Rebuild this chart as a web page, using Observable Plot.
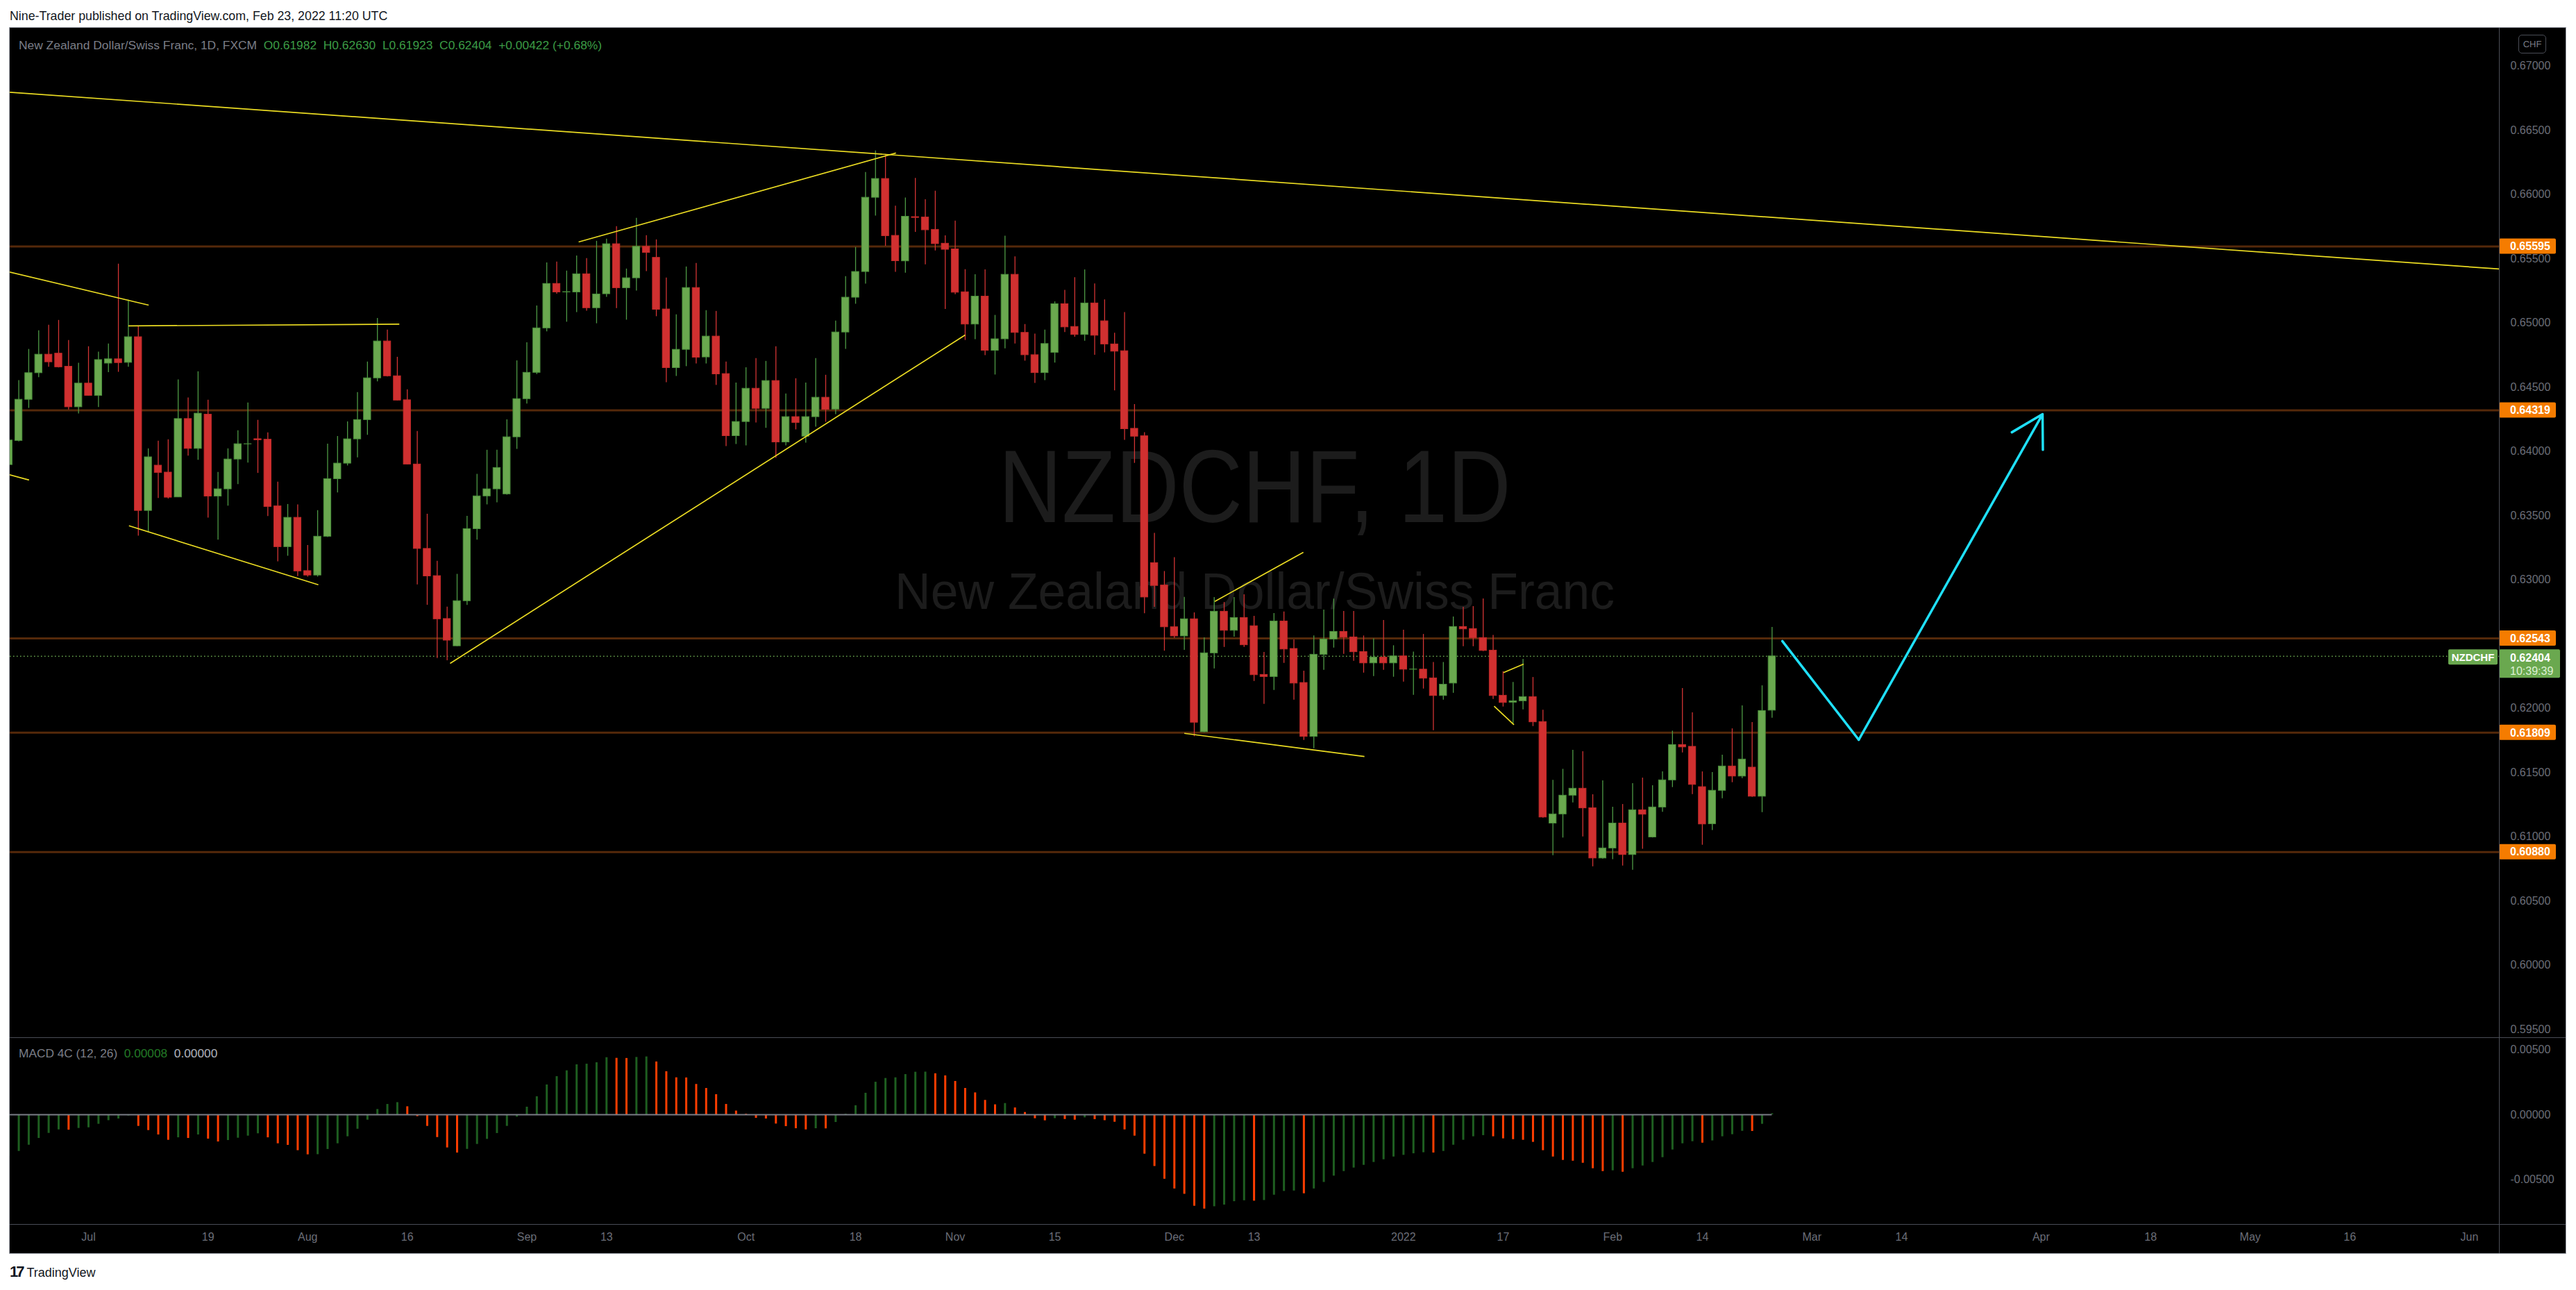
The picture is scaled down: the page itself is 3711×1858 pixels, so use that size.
<!DOCTYPE html>
<html>
<head>
<meta charset="utf-8">
<script src="https://cdn.jsdelivr.net/npm/d3@7"></script>
<script src="https://cdn.jsdelivr.net/npm/@observablehq/plot@0.6"></script>
<style>
html,body{margin:0;padding:0;background:#fff;}
body{width:3711px;height:1858px;position:relative;overflow:hidden;font-family:"Liberation Sans",Arial,sans-serif;}
.abs{position:absolute;}
#frame{left:14px;top:40px;width:3682px;height:1765px;background:#000;box-shadow:0 0 0 1px #a3a6af;}
#header{left:14px;top:13px;font-size:17.8px;line-height:20px;color:#131722;white-space:nowrap;}
#legend{left:27px;top:55px;font-size:17.4px;line-height:20px;color:#7b7e87;white-space:nowrap;}
#legend .v{color:#3c9c46;}
#macdlbl{left:27px;top:1507px;font-size:17.3px;line-height:20px;color:#7b7e87;white-space:nowrap;}
.sep{background:#4a4d56;}
#chf{left:3628px;top:50px;width:38px;height:25px;border:1px solid #4a4d56;border-radius:5px;color:#787b86;font-size:13px;line-height:25px;text-align:center;}
#logo{left:14px;top:1820px;font-size:18px;line-height:24px;color:#131722;white-space:nowrap;}
#logo b{font-weight:900;font-size:22px;letter-spacing:-3px;margin-right:6px;}
svg{overflow:visible;}
</style>
</head>
<body>
<div id="frame" class="abs"></div>
<div id="header" class="abs">Nine-Trader published on TradingView.com, Feb 23, 2022 11:20 UTC</div>
<div id="mainWrap" class="abs" style="left:14px;top:40px;"></div>
<div id="macdWrap" class="abs" style="left:14px;top:1494px;"></div>
<div class="abs sep" style="left:14px;top:1494px;width:3682px;height:1px;"></div>
<div class="abs sep" style="left:14px;top:1763px;width:3682px;height:1px;"></div>
<div class="abs sep" style="left:3600px;top:40px;width:1px;height:1765px;"></div>
<div id="legend" class="abs"></div>
<div id="macdlbl" class="abs"></div>
<div id="chf" class="abs">CHF</div>
<div id="logo" class="abs"><b>17</b>TradingView</div>
<script>
// ---------- DATA ----------
const startDate = "2021-06-21"; // first bar, consecutive weekdays after it
const open = [
0.63894,0.64082,0.64402,0.64609,0.64753,0.64761,0.64659,0.64344,0.64528,0.64433,
0.64684,0.64717,0.64690,0.64889,0.63537,0.63889,0.63835,0.63642,0.64252,0.64020,
0.64286,0.63649,0.63705,0.63937,0.64055,0.64095,0.64091,0.63572,0.63255,0.63483,
0.63068,0.63034,0.63336,0.63784,0.63905,0.64094,0.64244,0.64569,0.64856,0.64585,
0.64398,0.63898,0.63241,0.63029,0.62695,0.62483,0.62834,0.63395,0.63650,0.63705,
0.63666,0.64110,0.64407,0.64612,0.64958,0.65304,0.65238,0.65238,0.65379,0.65115,
0.65224,0.65613,0.65271,0.65348,0.65593,0.65507,0.65105,0.64649,0.64791,0.65272,
0.64732,0.64894,0.64602,0.64119,0.64229,0.64488,0.64332,0.64548,0.64070,0.64267,
0.64115,0.64267,0.64418,0.64326,0.64926,0.65197,0.65397,0.65975,0.66121,0.65678,
0.65480,0.65824,0.65821,0.65725,0.65617,0.65573,0.65239,0.64988,0.65205,0.64784,
0.64873,0.65375,0.64923,0.64749,0.64610,0.64768,0.65146,0.64969,0.64907,0.65152,
0.65013,0.64833,0.64780,0.64176,0.64118,0.63130,0.62956,0.62631,0.62560,0.62693,
0.61814,0.62428,0.62752,0.62604,0.62703,0.62639,0.62260,0.62244,0.62676,0.62462,
0.62197,0.61778,0.62417,0.62536,0.62595,0.62552,0.62438,0.62350,0.62395,0.62350,
0.62404,0.62301,0.62301,0.62233,0.62096,0.62193,0.62633,0.62617,0.62547,0.62449,
0.62098,0.62044,0.62055,0.62087,0.61893,0.61103,0.61174,0.61320,0.61374,0.61222,
0.60831,0.60909,0.61103,0.60858,0.61206,0.60995,0.61228,0.61439,0.61714,0.61700,
0.61386,0.61098,0.61358,0.61547,0.61469,0.61538,0.61312,0.61982];
const high = [
0.64110,0.64551,0.64794,0.64939,0.64983,0.65020,0.64863,0.64686,0.64815,0.64773,
0.64836,0.65458,0.65178,0.64972,0.64020,0.64080,0.64091,0.64557,0.64416,0.64620,
0.64398,0.63836,0.64020,0.64161,0.64377,0.64242,0.64145,0.63761,0.63587,0.63584,
0.63268,0.63539,0.64057,0.64116,0.64230,0.64458,0.64696,0.65035,0.64944,0.64733,
0.64480,0.64155,0.63511,0.63145,0.62788,0.63043,0.63495,0.63821,0.64009,0.64009,
0.64246,0.64705,0.64846,0.65133,0.65467,0.65474,0.65404,0.65522,0.65502,0.65636,
0.65653,0.65750,0.65420,0.65815,0.65680,0.65647,0.65350,0.65063,0.65436,0.65463,
0.65096,0.65090,0.64696,0.64533,0.64652,0.64723,0.64701,0.64815,0.64447,0.64566,
0.64533,0.64723,0.64593,0.65015,0.65361,0.65588,0.66172,0.66339,0.66312,0.65910,
0.65973,0.66125,0.65960,0.66026,0.65679,0.65793,0.65415,0.65375,0.65413,0.65059,
0.65676,0.65515,0.64988,0.64914,0.64945,0.65164,0.65254,0.65353,0.65413,0.65304,
0.65180,0.64920,0.65081,0.64365,0.64146,0.63362,0.63065,0.63173,0.62863,0.62743,
0.62548,0.62862,0.62824,0.62862,0.62884,0.62716,0.62435,0.62738,0.62750,0.62532,
0.62289,0.62563,0.62765,0.62850,0.62754,0.62754,0.62563,0.62541,0.62684,0.62487,
0.62608,0.62438,0.62575,0.62357,0.62357,0.62711,0.62786,0.62792,0.62851,0.62568,
0.62285,0.62201,0.62381,0.62240,0.61985,0.61439,0.61525,0.61673,0.61662,0.61327,
0.61435,0.61230,0.61251,0.61413,0.61457,0.61397,0.61505,0.61822,0.62154,0.61965,
0.61505,0.61500,0.61635,0.61840,0.62019,0.61889,0.62175,0.62630];
const low = [
0.63870,0.64074,0.64335,0.64574,0.64655,0.64650,0.64323,0.64292,0.64430,0.64342,
0.64613,0.64616,0.64655,0.63340,0.63373,0.63634,0.63630,0.63640,0.63964,0.63931,
0.63481,0.63309,0.63574,0.63742,0.63910,0.63829,0.63493,0.63140,0.63184,0.63026,
0.63022,0.63022,0.63330,0.63677,0.63887,0.63950,0.64125,0.64542,0.64580,0.64394,
0.63895,0.62961,0.62802,0.62388,0.62370,0.62480,0.62802,0.63309,0.63584,0.63600,
0.63660,0.64016,0.64369,0.64598,0.64931,0.65224,0.65006,0.65081,0.65092,0.64994,
0.65200,0.65112,0.65022,0.65249,0.65400,0.65049,0.64535,0.64584,0.64660,0.64681,
0.64681,0.64514,0.64038,0.64054,0.64043,0.64222,0.64180,0.63946,0.64043,0.64168,
0.64065,0.64189,0.64227,0.64287,0.64795,0.65146,0.65303,0.65833,0.65597,0.65395,
0.65388,0.65706,0.65453,0.65561,0.65106,0.65220,0.64864,0.64870,0.64746,0.64595,
0.64799,0.64836,0.64703,0.64530,0.64551,0.64688,0.64926,0.64889,0.64858,0.64749,
0.64768,0.64471,0.64087,0.63907,0.62736,0.62786,0.62445,0.62544,0.62451,0.61779,
0.61810,0.62307,0.62474,0.62554,0.62474,0.62209,0.62031,0.62139,0.62350,0.62063,
0.61750,0.61685,0.62296,0.62469,0.62420,0.62366,0.62274,0.62247,0.62296,0.62242,
0.62204,0.62101,0.62150,0.61825,0.62063,0.62117,0.62480,0.62480,0.62442,0.62069,
0.62010,0.61876,0.61988,0.61858,0.61145,0.60853,0.60990,0.61264,0.60999,0.60766,
0.60825,0.60821,0.60772,0.60739,0.60902,0.60990,0.61190,0.61383,0.61653,0.61329,
0.60934,0.61048,0.61296,0.61421,0.61453,0.61307,0.61188,0.61923];
const close = [
0.64085,0.64402,0.64609,0.64753,0.64694,0.64655,0.64344,0.64528,0.64433,0.64711,
0.64717,0.64688,0.64889,0.63537,0.63954,0.63833,0.63640,0.64252,0.64020,0.64294,
0.63649,0.63705,0.63937,0.64056,0.64056,0.64087,0.63568,0.63255,0.63483,0.63066,
0.63034,0.63336,0.63784,0.63905,0.64094,0.64244,0.64569,0.64856,0.64585,0.64396,
0.63898,0.63241,0.63027,0.62693,0.62527,0.62834,0.63395,0.63650,0.63705,0.63871,
0.64110,0.64407,0.64612,0.64958,0.65304,0.65238,0.65240,0.65379,0.65115,0.65222,
0.65613,0.65271,0.65348,0.65593,0.65546,0.65103,0.64649,0.64791,0.65272,0.64730,
0.64894,0.64600,0.64119,0.64229,0.64488,0.64332,0.64548,0.64070,0.64267,0.64222,
0.64267,0.64418,0.64324,0.64926,0.65197,0.65397,0.65975,0.66121,0.65676,0.65481,
0.65827,0.65818,0.65722,0.65614,0.65570,0.65236,0.64988,0.65205,0.64784,0.64873,
0.65375,0.64923,0.64749,0.64610,0.64836,0.65146,0.64966,0.64907,0.65152,0.64901,
0.64833,0.64777,0.64173,0.64115,0.62863,0.62953,0.62631,0.62560,0.62693,0.61888,
0.62428,0.62752,0.62604,0.62703,0.62491,0.62258,0.62244,0.62676,0.62458,0.62193,
0.61778,0.62417,0.62536,0.62595,0.62550,0.62437,0.62350,0.62395,0.62350,0.62404,
0.62301,0.62302,0.62231,0.62096,0.62184,0.62633,0.62615,0.62545,0.62447,0.62096,
0.62042,0.62055,0.62087,0.61891,0.61150,0.61174,0.61320,0.61374,0.61221,0.60831,
0.60909,0.61103,0.60858,0.61206,0.61172,0.61228,0.61439,0.61714,0.61696,0.61404,
0.61096,0.61358,0.61547,0.61469,0.61601,0.61312,0.61979,0.62404];
const macdHist = [
-0.00320,-0.00282,-0.00234,-0.00182,-0.00143,-0.00116,-0.00118,-0.00105,-0.00100,-0.00073,
-0.00045,-0.00032,-0.00009,-0.00089,-0.00121,-0.00155,-0.00196,-0.00177,-0.00182,-0.00155,
-0.00187,-0.00209,-0.00198,-0.00180,-0.00164,-0.00146,-0.00177,-0.00223,-0.00235,-0.00276,
-0.00308,-0.00307,-0.00267,-0.00223,-0.00169,-0.00111,-0.00041,0.00041,0.00080,0.00094,
0.00062,-0.00014,-0.00089,-0.00175,-0.00255,-0.00294,-0.00266,-0.00228,-0.00189,-0.00144,
-0.00089,-0.00018,0.00059,0.00139,0.00230,0.00294,0.00339,0.00385,0.00390,0.00401,
0.00440,0.00435,0.00434,0.00442,0.00446,0.00407,0.00332,0.00285,0.00284,0.00234,
0.00203,0.00155,0.00080,0.00029,0.00005,-0.00027,-0.00032,-0.00071,-0.00091,-0.00107,
-0.00116,-0.00107,-0.00108,-0.00059,0.00005,0.00070,0.00166,0.00251,0.00280,0.00285,
0.00310,0.00328,0.00329,0.00316,0.00300,0.00257,0.00203,0.00169,0.00111,0.00077,
0.00087,0.00053,0.00018,-0.00030,-0.00046,-0.00029,-0.00036,-0.00041,-0.00023,-0.00037,
-0.00045,-0.00057,-0.00116,-0.00164,-0.00303,-0.00398,-0.00496,-0.00571,-0.00612,-0.00704,
-0.00726,-0.00708,-0.00695,-0.00669,-0.00662,-0.00665,-0.00660,-0.00619,-0.00590,-0.00587,
-0.00608,-0.00571,-0.00521,-0.00472,-0.00437,-0.00410,-0.00389,-0.00367,-0.00346,-0.00325,
-0.00312,-0.00300,-0.00292,-0.00294,-0.00282,-0.00234,-0.00196,-0.00169,-0.00160,-0.00169,
-0.00185,-0.00191,-0.00196,-0.00212,-0.00276,-0.00325,-0.00351,-0.00357,-0.00373,-0.00415,
-0.00437,-0.00431,-0.00442,-0.00415,-0.00394,-0.00367,-0.00330,-0.00271,-0.00223,-0.00207,
-0.00218,-0.00201,-0.00169,-0.00153,-0.00127,-0.00128,-0.00073,0.00008];
const macdUp = [
1,1,1,1,1,1,0,1,1,1, 1,1,1,0,0,0,0,1,0,1, 0,0,1,1,1,1,0,0,0,0, 0,1,1,1,1,1,1,1,1,1,
0,0,0,0,0,0,1,1,1,1, 1,1,1,1,1,1,1,1,1,1, 1,0,0,1,1,0,0,0,0,0, 0,0,0,0,0,0,0,0,0,0,
0,1,0,1,1,1,1,1,1,1, 1,1,1,0,0,0,0,0,0,0, 1,0,0,0,0,1,0,0,1,0, 0,0,0,0,0,0,0,0,0,0,
0,1,1,1,1,0,1,1,1,1, 0,1,1,1,1,1,1,1,1,1, 1,1,1,0,1,1,1,1,1,0, 0,0,0,0,0,0,0,0,0,0,
0,1,0,1,1,1,1,1,1,1, 0,1,1,1,1,0,1,1];
const levels = [0.65595, 0.64319, 0.62543, 0.61809, 0.60880];
// 0.62500 sits hidden under the level / last-price labels in the reference
const priceTicks = [0.670,0.665,0.660,0.655,0.650,0.645,0.640,0.635,0.630,0.620,0.615,0.610,0.605,0.600,0.595];
const macdTicks = [0.005, 0, -0.005];
const tickDates = ["2021-07-01","2021-07-19","2021-08-02","2021-08-16","2021-09-01","2021-09-13","2021-10-01","2021-10-18","2021-11-01","2021-11-15","2021-12-01","2021-12-13","2022-01-03","2022-01-17","2022-02-01","2022-02-14","2022-03-01","2022-03-14","2022-04-01","2022-04-18","2022-05-02","2022-05-16","2022-06-01"];
const tickLabels = ["Jul","19","Aug","16","Sep","13","Oct","18","Nov","15","Dec","13","2022","17","Feb","14","Mar","14","Apr","18","May","16","Jun"];
// drawn trend lines (bar index, price)
const trendX1 = [0, 57.2, 44.3, -1, 12.0, 12.06, -1, 121.06, 118.0, 150.04, 149.1];
const trendY1 = [0.66796, 0.65630, 0.62349, 0.65416, 0.64976, 0.63420, 0.63839, 0.62831, 0.61804, 0.62277, 0.62015];
const trendX2 = [250, 89.05, 96.0, 14.04, 39.2, 31.07, 2.03, 129.95, 136.08, 152.06, 151.09];
const trendY2 = [0.65419, 0.66322, 0.64905, 0.65138, 0.64990, 0.62961, 0.63776, 0.63214, 0.61624, 0.62343, 0.61871];
// projected path (bar index, price)
const pathX = [178.03, 185.7, 204.15];
const pathY = [0.62522, 0.61754, 0.64289];
const symbol = "NZDCHF";
const title = "New Zealand Dollar/Swiss Franc";
const countdown = "10:39:39";

// ---------- BUILD ----------
const FONT = '"Liberation Sans", Arial, sans-serif';
const n = open.length;
function barIndex(s){
  const d0 = new Date(startDate+"T00:00:00Z"), d = new Date(s+"T00:00:00Z");
  let k = 0;
  for (let t = new Date(d0); t < d; t.setUTCDate(t.getUTCDate()+1)) { const w = t.getUTCDay(); if (w !== 0 && w !== 6) k++; }
  return k;
}
const tickIdx = tickDates.map(barIndex);
const labelOf = new Map(tickIdx.map((d,i)=>[d, tickLabels[i]]));
const candles = d3.range(n).map(i => ({i, o: open[i], h: high[i], l: low[i], c: close[i], up: close[i] >= open[i]}));
const macd = d3.range(n).map(i => ({i, v: macdHist[i], up: macdUp[i] === 1}));
const trends = d3.range(trendX1.length);
const fmt5 = d3.format(".5f");
const xDomain = [0.125, 250];

const main = Plot.plot({
  width: 3682, height: 1454,
  marginLeft: 0, marginRight: 96, marginTop: 0, marginBottom: 0,
  x: {domain: xDomain, axis: null, label: null},
  y: {domain: [0.594351, 0.672946], label: null},
  style: {background: "transparent", fontFamily: FONT, color: "#6b6e78", overflow: "visible"},
  marks: [
    Plot.text([symbol + ", 1D"], {frameAnchor: "middle", text: d => d, dy: -63, fontSize: 148, fill: "#1c1c1c"}),
    Plot.text([title], {frameAnchor: "middle", text: d => d, dy: 85, fontSize: 75, fill: "#1c1c1c"}),
    Plot.ruleY(levels, {stroke: "#55290a", strokeWidth: 3}),
    Plot.ruleY([close[n-1]], {stroke: "#6aa84f", strokeWidth: 1.5, strokeDasharray: "1.5,3.5"}),
    Plot.axisY(priceTicks, {anchor: "right", tickSize: 0, tickPadding: 16, tickFormat: fmt5, fontSize: 16, label: null}),
    Plot.ruleX(candles, {x: "i", y1: "l", y2: "h", stroke: d => d.up ? "#4e9a45" : "#d23434", strokeWidth: 1.3, clip: true}),
    Plot.rect(candles, {x1: d => d.i - 0.36, x2: d => d.i + 0.36, y1: "o", y2: "c",
      fill: d => d.up ? "#6aa84f" : "#d03030", stroke: d => d.up ? "#4b8f3c" : "#c22a2a", strokeWidth: 1, clip: true}),
    Plot.link(trends, {x1: i => trendX1[i], y1: i => trendY1[i], x2: i => trendX2[i], y2: i => trendY2[i], stroke: "#eadb22", strokeWidth: 1.7, clip: true}),
    Plot.line([0,1], {x: i => pathX[i], y: i => pathY[i], stroke: "#1fe0fa", strokeWidth: 3.5}),
    Plot.arrow([0], {x1: () => pathX[1], y1: () => pathY[1], x2: () => pathX[2], y2: () => pathY[2], bend: 0, headLength: 22, stroke: "#1fe0fa", strokeWidth: 3.5})
  ]
});
document.getElementById("mainWrap").appendChild(main);

const sub = Plot.plot({
  width: 3682, height: 311,
  marginLeft: 0, marginRight: 96, marginTop: 0, marginBottom: 42,
  x: {domain: xDomain, label: null},
  y: {domain: [-0.008449, 0.005936], label: null},
  style: {background: "transparent", fontFamily: FONT, color: "#6b6e78", overflow: "visible"},
  marks: [
    Plot.ruleX(macd, {x: "i", y1: () => 0, y2: "v", stroke: d => d.up ? "#1e5e20" : "#ff3d00", strokeWidth: 3, clip: true}),
    Plot.ruleY([0], {x1: () => 0, x2: () => n - 1, stroke: "#7a7d86", strokeWidth: 2, clip: true}),
    Plot.axisY(macdTicks, {anchor: "right", tickSize: 0, tickPadding: 16, tickFormat: d => fmt5(d).replace("\u2212", "-"), fontSize: 16, label: null}),
    Plot.axisX(tickIdx, {anchor: "bottom", tickSize: 0, tickPadding: 12, tickFormat: d => labelOf.get(d), fontSize: 16, label: null})
  ]
});
document.getElementById("macdWrap").appendChild(sub);

// watermark width fitting
d3.select(main).selectAll("text").each(function(){
  const t = this.textContent;
  if (t === symbol + ", 1D") { d3.select(this).attr("textLength", 738).attr("lengthAdjust", "spacingAndGlyphs"); }
  if (t === title) { d3.select(this).attr("textLength", 1037).attr("lengthAdjust", "spacingAndGlyphs"); }
});

// price-axis labels
const yM = main.scale("y");
const R = 3586;
const g = d3.select(main).append("g").attr("font-family", FONT).attr("font-weight", "bold").attr("font-size", 16).attr("text-anchor", "start");
levels.forEach(v => {
  const y = yM.apply(v);
  g.append("rect").attr("x", R).attr("y", y - 11).attr("width", 82).attr("height", 22).attr("rx", 2).attr("fill", "#f57c00");
  g.append("text").attr("x", R + 16).attr("y", y).attr("dy", "0.36em").attr("fill", "#fff").text(fmt5(v));
});
const yl = yM.apply(close[n-1]);
g.append("rect").attr("x", R).attr("y", yl - 9.5).attr("width", 88).attr("height", 41).attr("rx", 2).attr("fill", "#6aa84f");
g.append("text").attr("x", R + 16).attr("y", yl + 2.5).attr("dy", "0.36em").attr("fill", "#fff").text(fmt5(close[n-1]));
g.append("text").attr("x", R + 16).attr("y", yl + 21).attr("dy", "0.36em").attr("fill", "#dcefd3").attr("font-weight", "normal").text(countdown);
g.append("rect").attr("x", R - 73).attr("y", yl - 9.5).attr("width", 71).attr("height", 22).attr("rx", 2).attr("fill", "#6aa84f");
g.append("text").attr("x", R - 37.5).attr("y", yl + 1.5).attr("dy", "0.36em").attr("text-anchor", "middle").attr("fill", "#fff").attr("font-size", 15).text(symbol);

// legends
const L = n - 1;
document.getElementById("legend").innerHTML =
  `${title}, 1D, FXCM&nbsp;&nbsp;<span class="v">O${fmt5(open[L])}&nbsp;&nbsp;H${fmt5(high[L])}&nbsp;&nbsp;L${fmt5(low[L])}&nbsp;&nbsp;C${fmt5(close[L])}&nbsp;&nbsp;+0.00422 (+0.68%)</span>`;
document.getElementById("macdlbl").innerHTML =
  `MACD 4C (12, 26)&nbsp;&nbsp;<span style="color:#237a26">${fmt5(macdHist[L])}</span>&nbsp;&nbsp;<span style="color:#b2b5be">${fmt5(0)}</span>`;
</script>
</body>
</html>
